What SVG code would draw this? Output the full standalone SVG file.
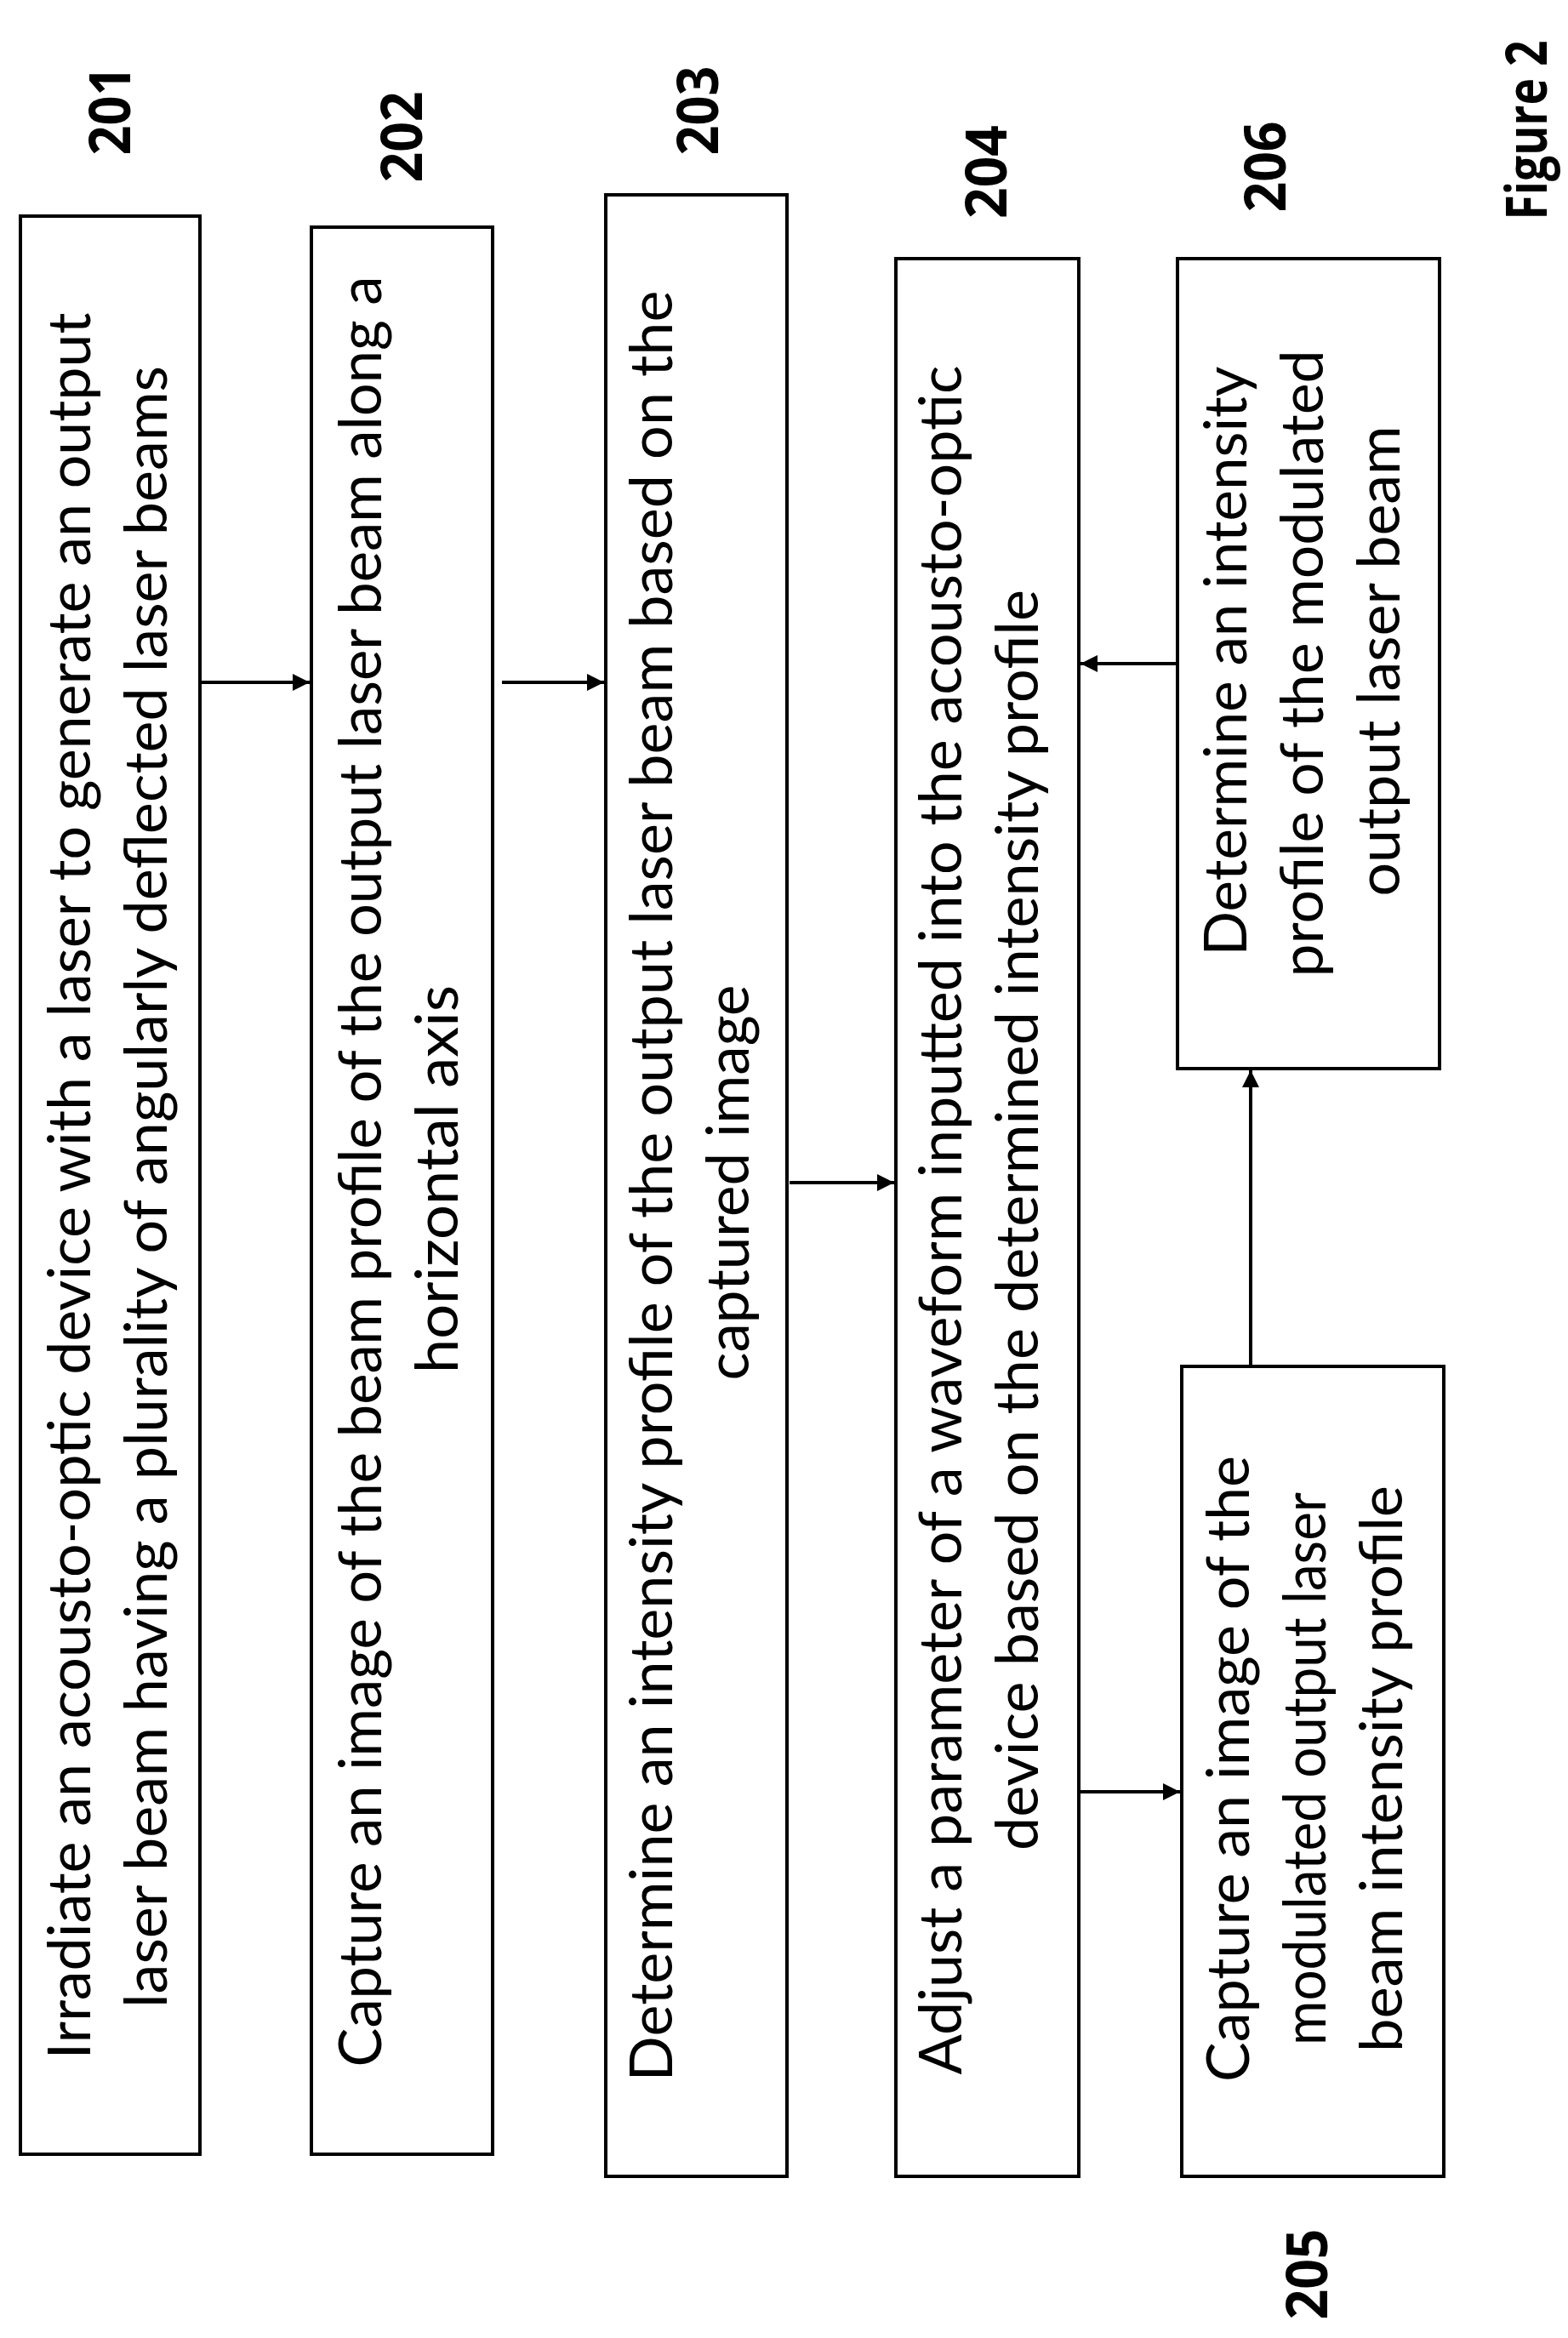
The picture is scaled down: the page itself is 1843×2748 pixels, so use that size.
<svg xmlns="http://www.w3.org/2000/svg" width="1843" height="2748" viewBox="0 0 1843 2748">
<style>
.box{fill:#fff;stroke:#000;stroke-width:4}
.t{font-family:Lato,"Liberation Sans",sans-serif;font-size:70px;fill:#000;text-anchor:middle}
.lab{font-family:"Open Sans","Liberation Sans",sans-serif;font-weight:bold;font-size:66px;fill:#000;text-anchor:middle}
.c{stroke:#000;stroke-width:4;fill:none;marker-end:url(#ah)}
</style>
<defs>
<marker id="ah" viewBox="0 0 10 10" refX="10" refY="5" markerWidth="5" markerHeight="5" markerUnits="strokeWidth" orient="auto">
<path d="M0,0 L10,5 L0,10 z" fill="#000"/>
</marker>
</defs>
<rect width="1843" height="2748" fill="#fff"/>
<g id="n201">
<rect class="box" x="24" y="254" width="211" height="2278"/>
<text class="t" transform="translate(106,1394) rotate(-90)" textLength="2053" lengthAdjust="spacingAndGlyphs">Irradiate an acousto-optic device with a laser to generate an output</text>
<text class="t" transform="translate(196,1395) rotate(-90)" textLength="1930" lengthAdjust="spacingAndGlyphs">laser beam having a plurality of angularly deflected laser beams</text>
<text class="lab" transform="translate(153,130) rotate(-90)" textLength="105" lengthAdjust="spacingAndGlyphs">201</text>
</g>
<g id="n202">
<rect class="box" x="366" y="267" width="213" height="2265"/>
<text class="t" transform="translate(448,1377) rotate(-90)" textLength="2105" lengthAdjust="spacingAndGlyphs">Capture an image of the beam profile of the output laser beam along a</text>
<text class="t" transform="translate(538,1386) rotate(-90)" textLength="456" lengthAdjust="spacingAndGlyphs">horizontal axis</text>
<text class="lab" transform="translate(496,161) rotate(-90)" textLength="107" lengthAdjust="spacingAndGlyphs">202</text>
</g>
<g id="n203">
<rect class="box" x="712" y="229" width="213" height="2329"/>
<text class="t" transform="translate(790,1394) rotate(-90)" textLength="2105" lengthAdjust="spacingAndGlyphs">Determine an intensity profile of the output laser beam based on the</text>
<text class="t" transform="translate(880,1390) rotate(-90)" textLength="465" lengthAdjust="spacingAndGlyphs">captured image</text>
<text class="lab" transform="translate(844,130) rotate(-90)" textLength="105" lengthAdjust="spacingAndGlyphs">203</text>
</g>
<g id="n204">
<rect class="box" x="1053" y="304" width="215" height="2254"/>
<text class="t" transform="translate(1130,1434) rotate(-90)" textLength="2009" lengthAdjust="spacingAndGlyphs">Adjust a parameter of a waveform inputted into the acousto-optic</text>
<text class="t" transform="translate(1220,1434) rotate(-90)" textLength="1482" lengthAdjust="spacingAndGlyphs">device based on the determined intensity profile</text>
<text class="lab" transform="translate(1183,202) rotate(-90)" textLength="110" lengthAdjust="spacingAndGlyphs">204</text>
</g>
<g id="n205">
<rect class="box" x="1389" y="1606" width="308" height="952"/>
<text class="t" transform="translate(1468,2079) rotate(-90)" textLength="736" lengthAdjust="spacingAndGlyphs">Capture an image of the</text>
<text class="t" transform="translate(1558,2079) rotate(-90)" textLength="650" lengthAdjust="spacingAndGlyphs">modulated output laser</text>
<text class="t" transform="translate(1648,2079) rotate(-90)" textLength="666" lengthAdjust="spacingAndGlyphs">beam intensity profile</text>
<text class="lab" transform="translate(1560,2673) rotate(-90)" textLength="107" lengthAdjust="spacingAndGlyphs">205</text>
</g>
<g id="n206">
<rect class="box" x="1384" y="304" width="308" height="952"/>
<text class="t" transform="translate(1465,777) rotate(-90)" textLength="693" lengthAdjust="spacingAndGlyphs">Determine an intensity</text>
<text class="t" transform="translate(1555,780) rotate(-90)" textLength="737" lengthAdjust="spacingAndGlyphs">profile of the modulated</text>
<text class="t" transform="translate(1645,777) rotate(-90)" textLength="553" lengthAdjust="spacingAndGlyphs">output laser beam</text>
<text class="lab" transform="translate(1511,196) rotate(-90)" textLength="107" lengthAdjust="spacingAndGlyphs">206</text>
</g>
<g id="fig">
<text class="lab" transform="translate(1818,153) rotate(-90)" textLength="211" lengthAdjust="spacingAndGlyphs">Figure 2</text>
</g>
<g id="connectors">
<line class="c" x1="237" y1="802" x2="364" y2="802"/>
<line class="c" x1="590" y1="802" x2="710" y2="802"/>
<line class="c" x1="928" y1="1390" x2="1051" y2="1390"/>
<line class="c" x1="1270" y1="2106" x2="1387" y2="2106"/>
<line class="c" x1="1382" y1="780" x2="1270" y2="780"/>
<line class="c" x1="1470" y1="1604" x2="1470" y2="1258"/>
</g>
</svg>
